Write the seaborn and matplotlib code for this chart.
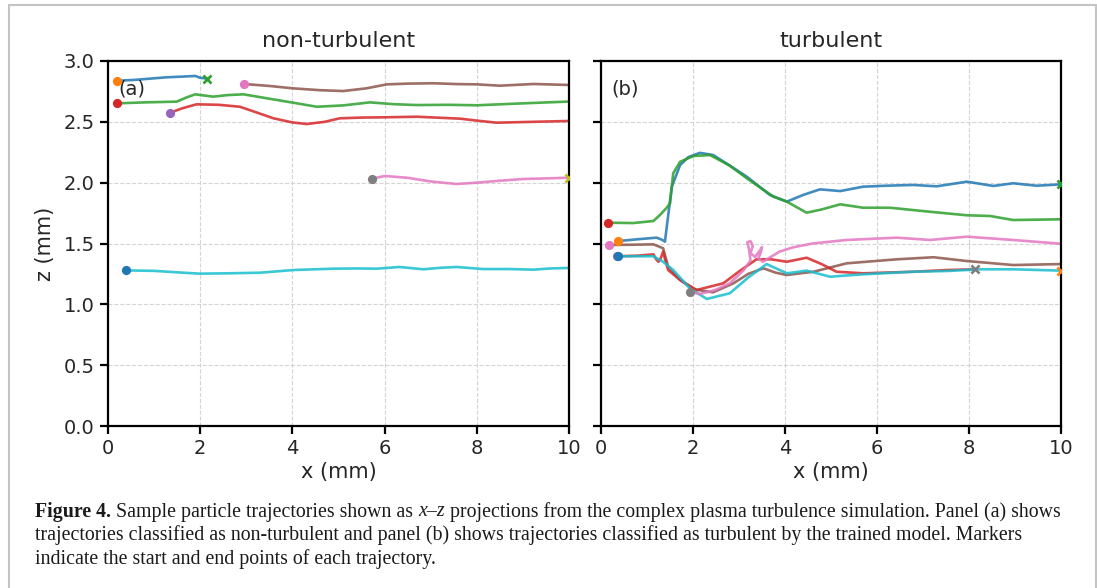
import matplotlib
matplotlib.use("Agg")
import matplotlib.pyplot as plt
import seaborn as sns
import numpy as np
from matplotlib.lines import Line2D

# ---------------- data ----------------
panel_titles = ["non-turbulent", "turbulent"]
panel_tags = ["(a)", "(b)"]
x_ticks = [0, 2, 4, 6, 8, 10]
z_ticks = [0.0, 0.5, 1.0, 1.5, 2.0, 2.5, 3.0]

# non-turbulent trajectories (panel a)
nt1_x = [0.2, 0.55, 1.27, 1.63, 1.89, 2.0, 2.15]
nt1_z = [2.838, 2.844, 2.866, 2.872, 2.877, 2.862, 2.855]
nt2_x = [0.2, 0.8, 1.49, 1.7, 1.89, 2.28, 2.6, 2.94, 3.5, 4.02, 4.53, 5.1, 5.68, 6.2, 6.7, 7.4, 8.0, 9.0, 9.95, 10.0]
nt2_z = [2.652, 2.66, 2.666, 2.70, 2.726, 2.707, 2.72, 2.726, 2.69, 2.657, 2.624, 2.635, 2.66, 2.645, 2.638, 2.64, 2.636, 2.652, 2.666, 2.667]
nt3_x = [1.35, 1.6, 1.92, 2.4, 2.86, 3.2, 3.59, 4.0, 4.31, 4.7, 5.03, 5.5, 5.97, 6.7, 7.64, 8.0, 8.43, 9.2, 10.0]
nt3_z = [2.575, 2.61, 2.644, 2.64, 2.624, 2.58, 2.529, 2.495, 2.482, 2.50, 2.529, 2.535, 2.537, 2.542, 2.526, 2.51, 2.493, 2.50, 2.507]
nt4_x = [2.95, 3.5, 4.02, 4.6, 5.1, 5.6, 6.05, 6.5, 7.06, 7.6, 8.0, 8.5, 9.23, 10.0]
nt4_z = [2.811, 2.795, 2.775, 2.76, 2.753, 2.775, 2.808, 2.814, 2.817, 2.81, 2.808, 2.797, 2.811, 2.803]
nt5_x = [5.72, 6.01, 6.5, 7.0, 7.56, 8.0, 8.5, 9.0, 9.5, 10.0]
nt5_z = [2.033, 2.055, 2.04, 2.01, 1.989, 2.0, 2.016, 2.03, 2.035, 2.041]
nt6_x = [0.38, 1.0, 1.63, 2.0, 2.6, 3.3, 4.02, 4.89, 5.4, 5.83, 6.33, 6.84, 7.2, 7.56, 8.14, 8.7, 9.23, 9.6, 10.0]
nt6_z = [1.279, 1.275, 1.26, 1.252, 1.255, 1.26, 1.282, 1.293, 1.295, 1.293, 1.307, 1.288, 1.30, 1.307, 1.29, 1.29, 1.285, 1.295, 1.299]

# turbulent trajectories (panel b)
tu1_x = [0.38, 0.8, 1.21, 1.33, 1.39, 1.43, 1.54, 1.72, 1.9, 2.15, 2.44, 2.8, 3.17, 3.67, 4.04, 4.4, 4.76, 5.2, 5.7, 6.2, 6.79, 7.3, 7.95, 8.53, 8.96, 9.47, 10.0]
tu1_z = [1.52, 1.535, 1.548, 1.53, 1.515, 1.638, 1.967, 2.145, 2.21, 2.245, 2.227, 2.14, 2.049, 1.899, 1.844, 1.90, 1.945, 1.931, 1.967, 1.975, 1.981, 1.97, 2.008, 1.973, 1.995, 1.975, 1.986]
tu2_x = [0.16, 0.7, 1.14, 1.28, 1.42, 1.5, 1.57, 1.72, 2.01, 2.37, 2.8, 3.17, 3.75, 4.04, 4.47, 4.8, 5.2, 5.7, 6.28, 7.15, 7.95, 8.46, 8.96, 10.0]
tu2_z = [1.671, 1.668, 1.685, 1.734, 1.79, 1.83, 2.077, 2.172, 2.219, 2.227, 2.14, 2.036, 1.885, 1.844, 1.753, 1.78, 1.822, 1.794, 1.794, 1.761, 1.732, 1.726, 1.693, 1.699]
tu3_x = [0.17, 0.7, 1.14, 1.35, 1.46, 1.72, 2.01, 2.44, 2.88, 3.2, 3.53, 3.8, 4.04, 4.62, 5.34, 6.43, 7.23, 7.95, 8.96, 10.0]
tu3_z = [1.488, 1.49, 1.493, 1.461, 1.309, 1.2, 1.123, 1.099, 1.173, 1.25, 1.296, 1.26, 1.241, 1.268, 1.337, 1.37, 1.387, 1.356, 1.323, 1.331]
tu4_x = [0.34, 0.8, 1.14, 1.2, 1.25, 1.3, 1.35, 1.4, 1.46, 1.72, 2.08, 2.66, 3.0, 3.38, 3.7, 4.04, 4.47, 4.8, 5.12, 5.7, 6.79, 7.52, 8.13]
tu4_z = [1.395, 1.40, 1.411, 1.37, 1.35, 1.38, 1.433, 1.36, 1.282, 1.2, 1.118, 1.173, 1.27, 1.37, 1.37, 1.35, 1.383, 1.33, 1.268, 1.255, 1.268, 1.282, 1.288]
tu5_x = [0.36, 0.8, 1.14, 1.35, 1.57, 1.93, 2.3, 2.8, 3.2, 3.6, 4.04, 4.47, 4.98, 5.7, 6.79, 7.52, 8.24, 8.96, 10.0]
tu5_z = [1.395, 1.395, 1.395, 1.35, 1.282, 1.132, 1.044, 1.091, 1.22, 1.331, 1.255, 1.277, 1.227, 1.247, 1.268, 1.274, 1.288, 1.288, 1.277]
tu6_x = [1.93, 2.15, 2.5, 2.8, 3.1, 3.25, 3.22, 3.18, 3.25, 3.3, 3.25, 3.35, 3.45, 3.5, 3.47, 3.42, 3.52, 3.65, 3.88, 4.18, 4.6, 5.34, 6.43, 7.15, 7.95, 8.96, 10.0]
tu6_z = [1.104, 1.085, 1.12, 1.173, 1.28, 1.36, 1.45, 1.51, 1.52, 1.48, 1.42, 1.39, 1.44, 1.47, 1.42, 1.38, 1.35, 1.38, 1.433, 1.469, 1.50, 1.529, 1.548, 1.529, 1.556, 1.529, 1.498]

# colours: line, start marker, end marker (None = end outside view)
nt_line_colors = ["C0", "C2", "C3", "C5", "C6", "C9"]
nt_start_colors = ["C1", "C3", "C4", "C6", "C7", "C0"]
nt_end_colors = ["C2", None, None, None, "C8", None]
tu_line_colors = ["C0", "C2", "C5", "C3", "C9", "C6"]
tu_start_colors = ["C1", "C3", "C6", "C4", "C0", "C7"]
tu_end_colors = ["C2", None, None, "C7", "C1", None]

caption_lines = [
    [("Figure 4.", "bold", "normal"), (" Sample particle trajectories shown as ", "normal", "normal"),
     ("x\u2013z", "normal", "italic"),
     (" projections from the complex plasma turbulence simulation. Panel (a) shows", "normal", "normal")],
    [("trajectories classified as non-turbulent and panel (b) shows trajectories classified as turbulent by the trained model. Markers", "normal", "normal")],
    [("indicate the start and end points of each trajectory.", "normal", "normal")],
]

# ---------------- style ----------------
sns.set_style("ticks")
plt.rcParams["font.family"] = ["DejaVu Sans"]
plt.rcParams["axes.prop_cycle"] = matplotlib.cycler(color=sns.color_palette("tab10"))

W, H = 1097, 588
fig = plt.figure(figsize=(W / 100, H / 100), dpi=100)
fig.patch.set_facecolor("white")

ax1 = fig.add_axes([108 / W, 162 / H, 461 / W, 365 / H])
ax2 = fig.add_axes([601 / W, 162 / H, 460 / W, 365 / H], sharey=ax1)

nt_x = [nt1_x, nt2_x, nt3_x, nt4_x, nt5_x, nt6_x]
nt_z = [nt1_z, nt2_z, nt3_z, nt4_z, nt5_z, nt6_z]
tu_x = [tu1_x, tu2_x, tu3_x, tu4_x, tu5_x, tu6_x]
tu_z = [tu1_z, tu2_z, tu3_z, tu4_z, tu5_z, tu6_z]

panels = [
    (ax1, nt_x, nt_z, nt_line_colors, nt_start_colors, nt_end_colors),
    (ax2, tu_x, tu_z, tu_line_colors, tu_start_colors, tu_end_colors),
]

for i, (ax, xs, zs, lc, sc, ec) in enumerate(panels):
    for x, z, c in zip(xs, zs, lc):
        sns.lineplot(x=np.array(x), y=np.array(z), sort=False, estimator=None,
                     color=c, lw=1.9, alpha=0.85, ax=ax, zorder=2,
                     solid_joinstyle="round", solid_capstyle="round")
    for x, z, c in zip(xs, zs, sc):
        ax.scatter([x[0]], [z[0]], s=44, color=c, marker="o", zorder=4, linewidths=0)
    for x, z, c in zip(xs, zs, ec):
        if c is not None:
            ax.scatter([x[-1]], [z[-1]], s=34, color=c, marker="x", zorder=4, linewidths=1.9)

    ax.set_xlim(0, 10)
    ax.set_ylim(0, 3.0)
    ax.set_xticks(x_ticks)
    ax.set_yticks(z_ticks)
    ax.grid(True, ls="--", lw=0.8, color="#d0d0d0", alpha=0.9)
    ax.set_axisbelow(True)
    for s in ax.spines.values():
        s.set_linewidth(1.6)
        s.set_color("black")
    ax.tick_params(axis="both", length=6, width=1.6, labelsize=14, color="black")
    ax.set_title(panel_titles[i], fontsize=16, pad=10)
    ax.set_xlabel("x (mm)", fontsize=15, labelpad=3)
    ax.text(0.023, 0.948, panel_tags[i], transform=ax.transAxes, fontsize=14,
            va="top", ha="left")

ax1.set_ylabel("z (mm)", fontsize=15, labelpad=6)
ax1.set_yticklabels([f"{v:.1f}" for v in z_ticks])
ax2.tick_params(axis="y", labelleft=False)
ax2.set_ylabel("")

# frame around figure
frame_c = "#c4c4c4"
fig.add_artist(Line2D([9 / W, 9 / W], [0, 1 - 5 / H], transform=fig.transFigure, color=frame_c, lw=1.5))
fig.add_artist(Line2D([9 / W, 1096 / W], [1 - 5 / H, 1 - 5 / H], transform=fig.transFigure, color=frame_c, lw=1.5))
fig.add_artist(Line2D([1096 / W, 1096 / W], [0, 1 - 5 / H], transform=fig.transFigure, color=frame_c, lw=1.5))

# caption
fig.canvas.draw()
renderer = fig.canvas.get_renderer()
cap_font = ["Liberation Serif", "DejaVu Serif"]
cap_size = 14.35
y0 = 512
for li, pieces in enumerate(caption_lines):
    xpx = 35
    ypx = y0 + li * 23.5
    for txt, weight, style in pieces:
        t = fig.text(xpx / W, 1 - ypx / H, txt, fontsize=cap_size, family=cap_font,
                     fontweight=weight, fontstyle=style, va="center", ha="left", color="#1a1a1a")
        bb = t.get_window_extent(renderer=renderer)
        xpx += bb.width

fig.savefig("out.png", dpi=100, facecolor="white")
